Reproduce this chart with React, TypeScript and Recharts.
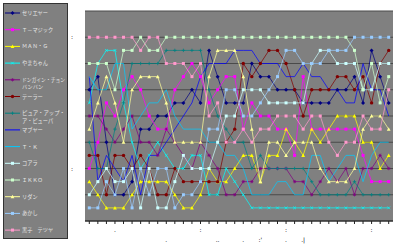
import React from 'react';
import { LineChart, Line, XAxis, YAxis, CartesianGrid } from 'recharts';

// 集計回 (36回)
const periods = [
  '1', '2', '3', '4', '5', '6', '7', '8', '9', '10', '11', '12',
  '13', '14', '15', '16', '17', '18', '19', '20', '21', '22', '23', '24',
  '25', '26', '27', '28', '29', '30', '31', '32', '33', '34', '35', '36',
];

const seriesNames = [
  'セリエヤー', 'Ｔ－マジック', 'ＭＡＮ・Ｇ', 'やまちゃん', 'ドンガイン・チョンバンバン',
  'テーラー', 'ピュア・アップ・ア・ピューパ', 'マブヤー', 'Ｔ・Ｋ', 'コアラ',
  'ＩＫＫＯ', 'リダン', 'あかし', '黒子　テツヤ',
];

// 凡例の改行位置
const legendLabels = [
  ['セリエヤー'], ['Ｔ－マジック'], ['ＭＡＮ・Ｇ'], ['やまちゃん'], ['ドンガイン・チョン', 'バンバン'],
  ['テーラー'], ['ピュア・アップ・', 'ア・ピューパ'], ['マブヤー'], ['Ｔ・Ｋ'], ['コアラ'],
  ['ＩＫＫＯ'], ['リダン'], ['あかし'], ['黒子　テツヤ'],
];

const seriesColors = [
  '#000080', '#FF00FF', '#FFFF00', '#00FFFF', '#800080', '#800000', '#008080',
  '#0000FF', '#00CCFF', '#CCFFFF', '#CCFFCC', '#FFFF99', '#99CCFF', '#FF99CC',
];

const seriesMarkers = [
  'diamond', 'square', 'triangle', 'x', 'star', 'circle', 'plus',
  'none', 'none', 'square', 'square', 'triangle', 'square', 'square',
];

// 順位
const rankSerieya = [5, 4, 9, 13, 13, 12, 8, 8, 7, 7, 6, 6, 5, 6, 2, 4, 6, 6, 6, 3, 4, 4, 5, 5, 5, 6, 6, 6, 6, 5, 5, 4, 6, 2, 4, 6];
const rankTMagic = [11, 9, 6, 7, 5, 4, 5, 7, 8, 8, 5, 4, 3, 4, 6, 5, 4, 4, 8, 6, 7, 7, 8, 8, 10, 4, 8, 8, 8, 8, 8, 8, 10, 12, 12, 12];
const rankManG = [12, 13, 14, 14, 14, 13, 12, 12, 12, 12, 13, 14, 14, 13, 11, 12, 12, 11, 10, 10, 12, 10, 10, 8, 9, 10, 8, 9, 8, 7, 7, 7, 9, 9, 11, 10];
const rankYamachan = [6, 3, 2, 2, 6, 9, 11, 10, 9, 10, 11, 11, 10, 10, 13, 13, 11, 12, 13, 14, 14, 14, 14, 14, 14, 14, 14, 14, 14, 14, 14, 14, 14, 14, 14, 14];
const rankDongain = [7, 7, 8, 9, 8, 7, 9, 9, 10, 8, 9, 10, 11, 9, 10, 11, 13, 13, 12, 12, 11, 11, 11, 11, 12, 12, 13, 12, 11, 12, 11, 13, 11, 11, 10, 11];
const rankTailor = [10, 10, 13, 10, 10, 11, 10, 11, 13, 13, 11, 12, 12, 12, 12, 12, 9, 8, 3, 4, 3, 2, 2, 3, 5, 7, 5, 5, 5, 4, 4, 5, 4, 6, 3, 2];
const rankPure = [9, 11, 11, 8, 6, 3, 3, 3, 3, 2, 2, 2, 2, 2, 5, 7, 8, 9, 9, 11, 10, 11, 11, 11, 11, 11, 12, 13, 13, 13, 13, 12, 13, 13, 13, 13];
const rankMabuya = [4, 12, 10, 11, 12, 10, 13, 10, 10, 9, 8, 7, 6, 4, 3, 3, 3, 2, 2, 2, 3, 3, 3, 4, 4, 3, 4, 4, 5, 5, 6, 6, 3, 5, 5, 7];
const rankTK = [4, 5, 5, 3, 3, 8, 7, 6, 6, 5, 7, 8, 8, 8, 9, 9, 10, 10, 11, 13, 13, 13, 12, 12, 13, 13, 10, 10, 12, 11, 10, 10, 12, 10, 9, 9];
const rankKoala = [13, 12, 11, 12, 12, 11, 14, 11, 14, 14, 12, 10, 11, 11, 11, 9, 7, 7, 5, 5, 5, 6, 6, 6, 6, 6, 3, 2, 2, 3, 3, 3, 5, 5, 3, 3];
const rankIkko = [3, 3, 3, 5, 2, 2, 1, 2, 2, 1, 1, 1, 1, 1, 1, 1, 1, 1, 1, 1, 1, 1, 1, 1, 1, 1, 1, 1, 1, 1, 1, 2, 5, 3, 6, 4];
const rankRidan = [8, 6, 4, 6, 9, 5, 4, 4, 4, 6, 9, 9, 9, 9, 4, 2, 2, 2, 4, 8, 12, 9, 9, 10, 9, 9, 9, 11, 12, 12, 12, 11, 8, 7, 7, 8];
const rankAkashi = [14, 14, 12, 13, 11, 14, 11, 13, 11, 11, 14, 13, 13, 12, 8, 8, 5, 5, 7, 7, 6, 5, 4, 2, 2, 3, 3, 3, 2, 2, 2, 1, 1, 1, 1, 1];
const rankKuroko = [1, 1, 1, 1, 1, 1, 2, 1, 1, 3, 3, 3, 4, 3, 7, 6, 9, 9, 8, 9, 8, 8, 7, 7, 7, 8, 7, 7, 9, 10, 9, 9, 7, 8, 8, 5];

const seriesRanks = [
  rankSerieya, rankTMagic, rankManG, rankYamachan, rankDongain, rankTailor, rankPure,
  rankMabuya, rankTK, rankKoala, rankIkko, rankRidan, rankAkashi, rankKuroko,
];

// 軸ラベル (潰れて点に見えるもの)
const yTicks = [1, 3, 5, 7, 9, 11, 13];
const yTickLabels = [':', '', '', '', '', ':', ''];
const xTickRow1 = ['', '', '', '.', '', '', '', '', '', '', '', '', '', ':', '', '', '', '', '', '', '', '', '', ':', '', '', '', '', '', '', '', '', '', ':', '', ''];
const xTickRow2 = ['', '', '', '', '', '', '', '', '', '.', '', '', '', '', '', '..', '', '', '.', '', ":'", '', '', '.', '', '.|', '', '', '', '', '', '', '', '', '', ''];

const chartData = periods.map((p, i) => {
  const row: Record<string, string | number> = { period: p };
  seriesRanks.forEach((r, s) => {
    row[`s${s}`] = r[i];
  });
  return row;
});

function Marker({ shape, color, cx, cy }: { shape: string; color: string; cx: number; cy: number }) {
  switch (shape) {
    case 'diamond':
      return <polygon points={`${cx},${cy - 2} ${cx + 2},${cy} ${cx},${cy + 2} ${cx - 2},${cy}`} fill={color} />;
    case 'square':
      return <rect x={cx - 1.5} y={cy - 1.5} width={3} height={3} fill={color} />;
    case 'triangle':
      return <polygon points={`${cx},${cy - 2} ${cx + 1.9},${cy + 1.5} ${cx - 1.9},${cy + 1.5}`} fill={color} />;
    case 'circle':
      return <circle cx={cx} cy={cy} r={1.7} fill={color} />;
    case 'x':
      return (
        <path d={`M${cx - 1.4},${cy - 1.4}L${cx + 1.4},${cy + 1.4}M${cx - 1.4},${cy + 1.4}L${cx + 1.4},${cy - 1.4}`} stroke={color} strokeWidth={0.7} />
      );
    case 'star':
      return (
        <path
          d={`M${cx - 1.7},${cy}L${cx + 1.7},${cy}M${cx},${cy - 1.7}L${cx},${cy + 1.7}M${cx - 1.2},${cy - 1.2}L${cx + 1.2},${cy + 1.2}M${cx - 1.2},${cy + 1.2}L${cx + 1.2},${cy - 1.2}`}
          stroke={color}
          strokeWidth={0.7}
        />
      );
    case 'plus':
      return <path d={`M${cx - 1.7},${cy}L${cx + 1.7},${cy}M${cx},${cy - 1.7}L${cx},${cy + 1.7}`} stroke={color} strokeWidth={0.8} />;
    default:
      return null;
  }
}

const makeDot = (shape: string, color: string) => (props: any) => {
  const { cx, cy, index } = props;
  if (shape === 'none' || cx == null || cy == null) return <g key={`d${index}`} />;
  return (
    <g key={`d${index}`}>
      <Marker shape={shape} color={color} cx={cx} cy={cy} />
    </g>
  );
};

const YTick = (props: any) => {
  const { x, y, payload } = props;
  const label = yTickLabels[yTicks.indexOf(payload.value)] || '';
  return (
    <text x={x - 5} y={y + 2} fontSize={6} fill="#000" textAnchor="middle" fontFamily="DejaVu Sans">
      {label}
    </text>
  );
};

const XTick = (props: any) => {
  const { x, y, payload } = props;
  const i = payload.index;
  return (
    <g>
      <text x={x} y={y + 6} fontSize={6} fill="#000" textAnchor="middle" fontFamily="DejaVu Sans">
        {xTickRow1[i]}
      </text>
      <text x={x} y={y + 16} fontSize={6} fill="#000" textAnchor="middle" fontFamily="DejaVu Sans">
        {xTickRow2[i]}
      </text>
    </g>
  );
};

function LegendBox() {
  return (
    <svg width={70} height={249} style={{ position: 'absolute', left: 0, top: 0 }}>
      <rect x={3.5} y={3.5} width={64} height={235} fill="#808080" stroke="#333" strokeWidth={1} />
      {seriesNames.map((name, k) => {
        const cy = 13 + k * 16.7;
        return (
          <g key={name}>
            <line x1={5} x2={20} y1={cy} y2={cy} stroke={seriesColors[k]} strokeWidth={1} />
            <Marker shape={seriesMarkers[k]} color={seriesColors[k]} cx={12.5} cy={cy} />
            {legendLabels[k].map((t, j) => (
              <text
                key={t}
                x={22}
                y={cy + 2 + j * 7.5}
                fontSize={5.2}
                fill="#e6e6e6"
                fontFamily="'Noto Sans CJK JP'"
                textLength={t.length > 7 ? 43 : undefined}
                lengthAdjust="spacingAndGlyphs"
              >
                {t}
              </text>
            ))}
          </g>
        );
      })}
    </svg>
  );
}

export default function App() {
  return (
    <div style={{ position: 'fixed', left: 0, top: 0, width: 400, height: 249, background: '#fff', overflow: 'hidden' }}>
      <LineChart width={400} height={249} data={chartData} margin={{ top: 11, right: 7, bottom: 0, left: 0 }}>
        <CartesianGrid vertical={false} fill="#808080" stroke="#4a4a4a" strokeWidth={1.2} />
        <XAxis
          dataKey="period"
          interval={0}
          height={28}
          padding={{ left: 4.3, right: 4.3 }}
          axisLine={{ stroke: '#222', strokeWidth: 1 }}
          tickLine={{ stroke: '#222' }}
          tickSize={3}
          tick={<XTick />}
        />
        <YAxis
          type="number"
          domain={[-1, 15]}
          reversed
          ticks={yTicks}
          width={85}
          axisLine={false}
          tickLine={false}
          tick={<YTick />}
        />
        {seriesNames.map((name, s) => (
          <Line
            key={name}
            dataKey={`s${s}`}
            name={name}
            type="linear"
            stroke={seriesColors[s]}
            strokeWidth={0.9}
            strokeOpacity={0.8}
            dot={makeDot(seriesMarkers[s], seriesColors[s])}
            activeDot={false}
            isAnimationActive={false}
          />
        ))}
      </LineChart>
      <LegendBox />
    </div>
  );
}
